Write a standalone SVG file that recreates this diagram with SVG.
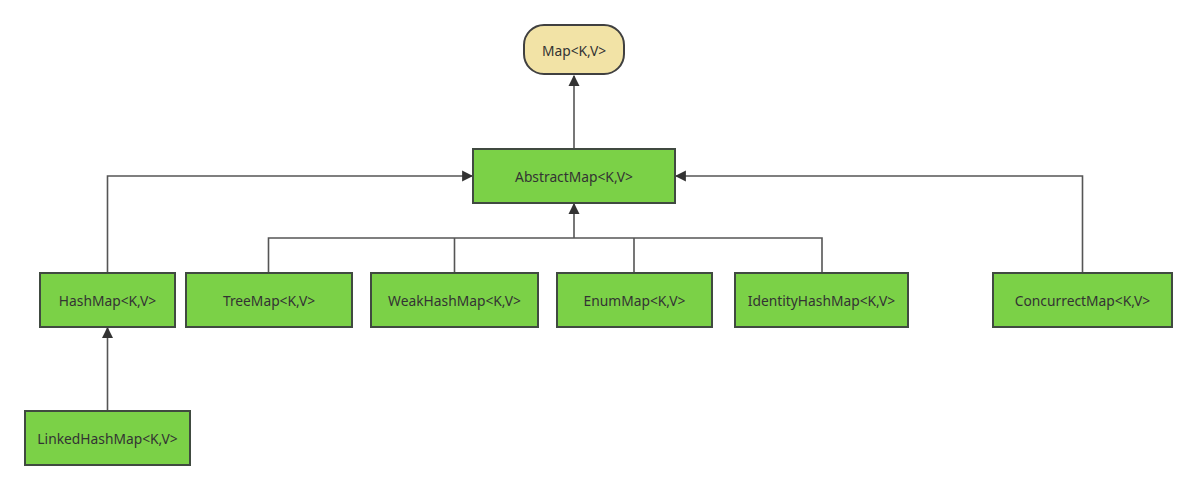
<svg xmlns="http://www.w3.org/2000/svg" width="1197" height="491" viewBox="0 0 1197 491">
<style>
.box{fill:#7bd147;stroke:#404a40;stroke-width:2}
.root{fill:#f2e3a6;stroke:#404040;stroke-width:2}
.lbl{font-family:"Noto Sans","Open Sans",sans-serif;font-size:13.8px;fill:#333;text-anchor:middle;dominant-baseline:central}
.ln{fill:none;stroke:#555;stroke-width:1.6}
</style>
<defs>
<marker id="ah" markerWidth="11" markerHeight="13" refX="9" refY="5" orient="auto" markerUnits="userSpaceOnUse" viewBox="0 0 10 10">
<path d="M0,0 L10,5 L0,10 Z" fill="#333"/>
</marker>
</defs>
<rect width="1197" height="491" fill="#fff"/>
<g id="connectors">
<path class="ln" d="M574,148 V76" marker-end="url(#ah)"/>
<path class="ln" d="M268.5,272 V238 H574 M454.5,272 V238 M634,272 V238 M822,272 V238 H574" />
<path class="ln" d="M574,238 V204" stroke-width="2" marker-end="url(#ah)"/>
<path class="ln" d="M107.5,272 V176 H472" marker-end="url(#ah)"/>
<path class="ln" d="M1082.5,272 V176 H676" marker-end="url(#ah)"/>
<path class="ln" d="M107.5,411 V328" marker-end="url(#ah)"/>
</g>
<g id="map"><rect class="root" x="524" y="25" width="100" height="49" rx="20"/><text class="lbl" x="574" y="50">Map&lt;K,V&gt;</text></g>
<g id="abstractmap"><rect class="box" x="473" y="149" width="202" height="54"/><text class="lbl" x="574" y="176">AbstractMap&lt;K,V&gt;</text></g>
<g id="hashmap"><rect class="box" x="40" y="273" width="135" height="54"/><text class="lbl" x="107.5" y="300">HashMap&lt;K,V&gt;</text></g>
<g id="treemap"><rect class="box" x="186" y="273" width="166" height="54"/><text class="lbl" x="269" y="300">TreeMap&lt;K,V&gt;</text></g>
<g id="weakhashmap"><rect class="box" x="371" y="273" width="167" height="54"/><text class="lbl" x="454.5" y="300">WeakHashMap&lt;K,V&gt;</text></g>
<g id="enummap"><rect class="box" x="557" y="273" width="155" height="54"/><text class="lbl" x="634.5" y="300">EnumMap&lt;K,V&gt;</text></g>
<g id="identityhashmap"><rect class="box" x="735" y="273" width="173" height="54"/><text class="lbl" x="821.5" y="300">IdentityHashMap&lt;K,V&gt;</text></g>
<g id="concurrentmap"><rect class="box" x="993" y="273" width="179" height="54"/><text class="lbl" x="1082.5" y="300">ConcurrectMap&lt;K,V&gt;</text></g>
<g id="linkedhashmap"><rect class="box" x="25" y="411" width="165" height="54"/><text class="lbl" x="107.5" y="438">LinkedHashMap&lt;K,V&gt;</text></g>
</svg>
